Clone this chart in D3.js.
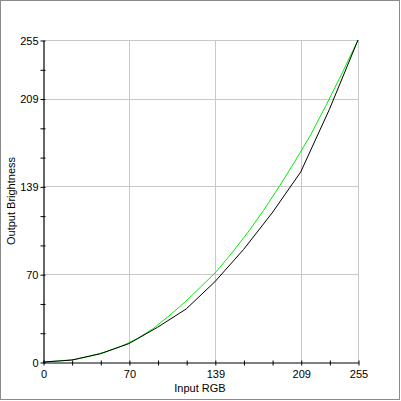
<!DOCTYPE html>
<html><head><meta charset="utf-8">
<script src="https://cdn.jsdelivr.net/npm/d3@7"></script>
<style>html,body{margin:0;padding:0;background:#fff}svg{display:block}</style>
</head><body>
<script>
// ---- data ----
const majorTicks = [0, 69.545, 139.091, 208.636, 255];
const majorLabels = ["0", "70", "139", "209", "255"];
const minorTicks = [23.182, 46.364, 92.727, 115.909, 162.273, 185.455, 231.818];

const blackX = [0, 23.18, 46.36, 69.55, 92.73, 115.91, 139.09, 162.27, 185.45, 208.64, 231.82, 255];
const blackY = [0, 1.5, 6.5, 14.6, 27.5, 42, 63.5, 89, 118, 150.5, 200, 255];

const greenX = [0, 12.75, 25.5, 38.25, 51, 63.75, 76.5, 89.25, 102, 114.75, 127.5, 140.25, 153, 165.75, 178.5, 191.25, 204, 216.75, 229.5, 242.25, 255];
const greenY = [0, 0.8, 2.0, 4.8, 8.1, 12.6, 18.6, 26.5, 36.5, 47.3, 59.3, 71.5, 86.5, 102.5, 120, 139, 159, 180, 204, 229, 255];

const xTitle = "Input RGB";
const yTitle = "Output Brightness";

// ---- chart ----
const W = 401, H = 401;
const svg = d3.select("body").append("svg").attr("width", W).attr("height", H);
const x = d3.scaleLinear().domain([0, 255]).range([43, 358]);
const y = d3.scaleLinear().domain([0, 255]).range([362, 40]);

svg.append("rect").attr("x", 0.5).attr("y", 0.5).attr("width", 399).attr("height", 399)
  .attr("fill", "#fff").attr("stroke", "#8a8a8a").attr("stroke-width", 1);

const font = "'Liberation Sans', Arial, sans-serif";

// gridlines
const grid = svg.append("g").attr("stroke", "#c8c8c8").attr("stroke-width", 1).attr("shape-rendering", "crispEdges");
majorTicks.slice(1).forEach(v => {
  grid.append("line").attr("x1", Math.round(x(v)) + 0.5).attr("x2", Math.round(x(v)) + 0.5)
    .attr("y1", y(0)).attr("y2", y(255));
  grid.append("line").attr("y1", Math.round(y(v)) + 0.5).attr("y2", Math.round(y(v)) + 0.5)
    .attr("x1", x(0)).attr("x2", x(255));
});

// series
const line = d3.line().x(d => x(d[0])).y(d => y(d[1]));
svg.append("path").datum(greenX.map((v, i) => [v, greenY[i]]))
  .attr("d", line).attr("fill", "none").attr("stroke", "#00ee00").attr("stroke-width", 1);
svg.append("path").datum(blackX.map((v, i) => [v, blackY[i]]))
  .attr("d", line).attr("fill", "none").attr("stroke", "#000").attr("stroke-width", 1);

// axes
const xAxis = d3.axisBottom(x).tickValues(majorTicks.concat(minorTicks))
  .tickFormat(v => { const k = majorTicks.indexOf(v); return k >= 0 ? majorLabels[k] : ""; })
  .tickSizeInner(3).tickSizeOuter(0).tickPadding(6);
const gx = svg.append("g").attr("transform", `translate(0.5,${y(0) + 0.5})`).call(xAxis);
const yAxis = d3.axisLeft(y).tickValues(majorTicks.concat(minorTicks))
  .tickFormat(v => { const k = majorTicks.indexOf(v); return k >= 0 ? majorLabels[k] : ""; })
  .tickSizeInner(3).tickSizeOuter(0).tickPadding(2);
const gy = svg.append("g").attr("transform", `translate(${x(0) + 0.5},0.5)`).call(yAxis);

[gx, gy].forEach(g => {
  g.select(".domain").attr("stroke", "#000").attr("stroke-width", 1.2);
  g.selectAll(".tick line").attr("stroke", "#000");
  g.selectAll("text").attr("font-family", font).attr("font-size", 11).attr("fill", "#000");
});
gx.selectAll(".tick line").attr("y1", -2).attr("y2", 3);
gy.selectAll(".tick line").attr("x1", 2).attr("x2", -3);
gx.selectAll(".tick text").attr("y", 8);

svg.append("text").attr("x", 200).attr("y", 392).attr("text-anchor", "middle")
  .attr("font-family", font).attr("font-size", 11).text(xTitle);
svg.append("text").attr("transform", `translate(15,201) rotate(-90)`).attr("text-anchor", "middle")
  .attr("font-family", font).attr("font-size", 11).text(yTitle);
</script>
</body></html>
